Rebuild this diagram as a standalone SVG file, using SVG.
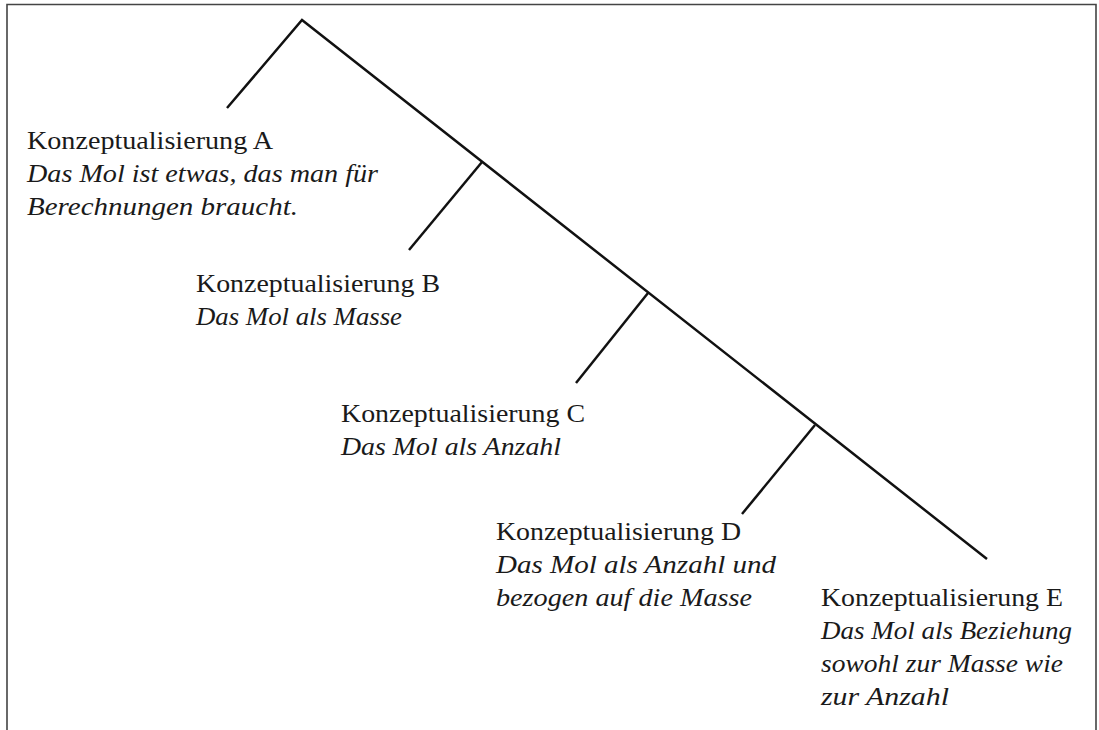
<svg xmlns="http://www.w3.org/2000/svg" width="1099" height="730" viewBox="0 0 1099 730">
<style>
.t{font-family:"Liberation Serif","Times New Roman",serif;font-size:25px;fill:#1a1a1a}
.i{font-style:italic}
.ln{stroke:#111;stroke-width:2.5;fill:none;stroke-linecap:butt}
</style>
<rect x="0" y="0" width="1099" height="730" fill="#fff"/>
<path d="M7,730 V4.5 H1096 V730" fill="none" stroke="#444" stroke-width="1.6"/>
<g id="connectors">
<polyline class="ln" points="227,108 302,20 987,559"/>
<line class="ln" x1="482" y1="162" x2="409" y2="250"/>
<line class="ln" x1="648" y1="293" x2="576" y2="383"/>
<line class="ln" x1="815" y1="425" x2="742" y2="514"/>
</g>
<g id="nodeA">
<text class="t" x="27" y="149" textLength="246" lengthAdjust="spacingAndGlyphs">Konzeptualisierung A</text>
<text class="t i" x="27" y="182" textLength="351" lengthAdjust="spacingAndGlyphs">Das Mol ist etwas, das man für</text>
<text class="t i" x="27" y="215" textLength="271" lengthAdjust="spacingAndGlyphs">Berechnungen braucht.</text>
</g>
<g id="nodeB">
<text class="t" x="196" y="292" textLength="244" lengthAdjust="spacingAndGlyphs">Konzeptualisierung B</text>
<text class="t i" x="196" y="325" textLength="206" lengthAdjust="spacingAndGlyphs">Das Mol als Masse</text>
</g>
<g id="nodeC">
<text class="t" x="341" y="422" textLength="244" lengthAdjust="spacingAndGlyphs">Konzeptualisierung C</text>
<text class="t i" x="341" y="455" textLength="220" lengthAdjust="spacingAndGlyphs">Das Mol als Anzahl</text>
</g>
<g id="nodeD">
<text class="t" x="496" y="540" textLength="245" lengthAdjust="spacingAndGlyphs">Konzeptualisierung D</text>
<text class="t i" x="496" y="573" textLength="280" lengthAdjust="spacingAndGlyphs">Das Mol als Anzahl und</text>
<text class="t i" x="496" y="606" textLength="256" lengthAdjust="spacingAndGlyphs">bezogen auf die Masse</text>
</g>
<g id="nodeE">
<text class="t" x="821" y="606" textLength="242" lengthAdjust="spacingAndGlyphs">Konzeptualisierung E</text>
<text class="t i" x="821" y="639" textLength="251" lengthAdjust="spacingAndGlyphs">Das Mol als Beziehung</text>
<text class="t i" x="821" y="672" textLength="242" lengthAdjust="spacingAndGlyphs">sowohl zur Masse wie</text>
<text class="t i" x="821" y="705" textLength="128" lengthAdjust="spacingAndGlyphs">zur Anzahl</text>
</g>
</svg>
